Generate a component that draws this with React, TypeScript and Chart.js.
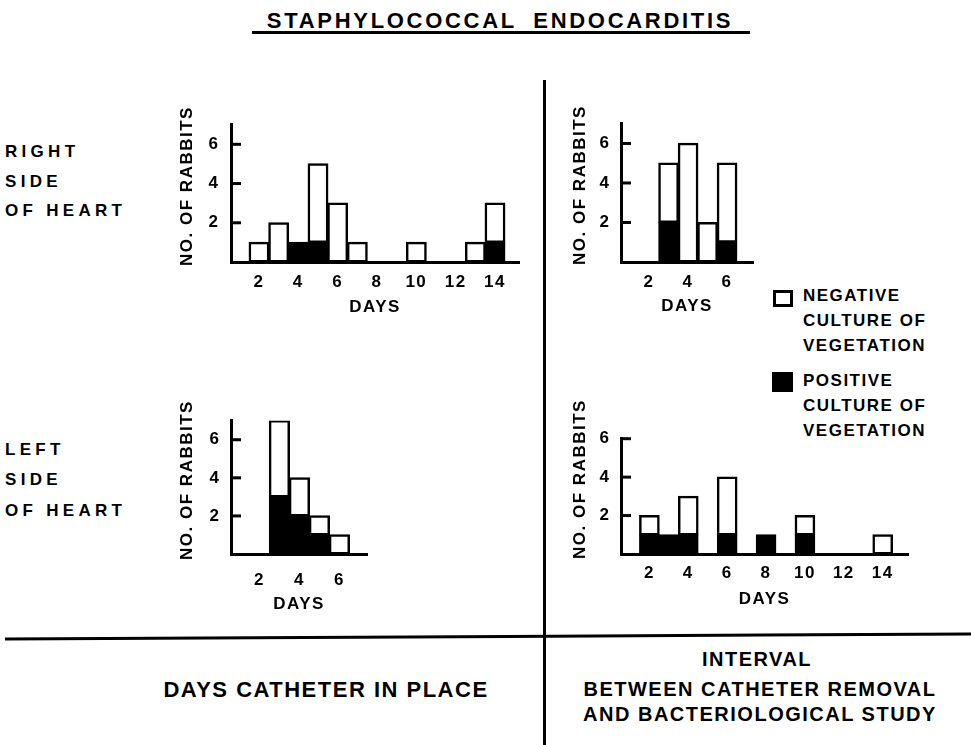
import React, { useEffect, useRef } from 'react';
import { Chart, registerables } from 'chart.js';

Chart.register(...registerables);

const FONT = "'Liberation Sans', Arial, sans-serif";

// ---- Data ----
// Right side of heart – days catheter in place
const rightCathDays = [2, 3, 4, 5, 6, 7, 10, 13, 14];
const rightCathPositive = [0, 0, 1, 1, 0, 0, 0, 0, 1];
const rightCathNegative = [1, 2, 0, 4, 3, 1, 1, 1, 2];

// Right side of heart – interval between catheter removal and study
const rightIntDays = [3, 4, 5, 6];
const rightIntPositive = [2, 0, 0, 1];
const rightIntNegative = [3, 6, 2, 4];

// Left side of heart – days catheter in place
const leftCathDays = [3, 4, 5, 6];
const leftCathPositive = [3, 2, 1, 0];
const leftCathNegative = [4, 2, 1, 1];

// Left side of heart – interval between catheter removal and study
const leftIntDays = [2, 3, 4, 6, 8, 10, 14];
const leftIntPositive = [1, 1, 1, 1, 1, 1, 0];
const leftIntNegative = [1, 0, 2, 3, 0, 1, 1];

// Tick labels
const xTickLabels = [2, 4, 6, 8, 10, 12, 14];
const yTickLabels = [2, 4, 6];

const yTitle = 'NO. OF RABBITS';
const xTitle = 'DAYS';

function toPoints(days: number[], vals: number[]) {
  return days
    .map((d, i) => ({ x: d, y: vals[i] }))
    .filter((p) => p.y > 0);
}

const letterSpacingPlugin = {
  id: 'letterSpacing',
  beforeDraw(chart: any) {
    (chart.ctx as any).letterSpacing = '1.5px';
  },
};

const innerTicksPlugin = {
  id: 'innerTicks',
  afterDraw(chart: any) {
    const y = chart.scales.y;
    const { ctx, chartArea } = chart;
    ctx.save();
    ctx.strokeStyle = '#000';
    ctx.lineWidth = 3;
    y.ticks.forEach((t: any) => {
      if (t.value <= 0) return;
      const py = y.getPixelForValue(t.value);
      ctx.beginPath();
      ctx.moveTo(chartArea.left, py);
      ctx.lineTo(chartArea.left + 10, py);
      ctx.stroke();
    });
    ctx.restore();
  },
};

type PanelSpec = {
  days: number[];
  pos: number[];
  neg: number[];
  left: number;
  top: number;
  wy: number;
  plotW: number;
  plotH: number;
  hx: number;
  xMin: number;
  xMax: number;
  yMax: number;
  yTickPad: number;
  xTickPad: number;
  xTitlePad: number;
  yTitleX: number;
  yTitleY: number;
};

const PAD_TOP = 20;
const PAD_RIGHT = 6;

function Panel({ spec }: { spec: PanelSpec }) {
  const ref = useRef<HTMLCanvasElement>(null);
  const width = spec.wy + spec.plotW + PAD_RIGHT;
  const height = PAD_TOP + spec.plotH + spec.hx;

  useEffect(() => {
    if (!ref.current) return;
    const font = { family: FONT, weight: 'bold', size: 17, lineHeight: 1.2 };
    const barCommon = {
      borderColor: '#000',
      borderWidth: 2.5,
      borderSkipped: false,
      barPercentage: 1,
      categoryPercentage: 1,
      inflateAmount: 0.6,
    };
    const chart = new Chart(ref.current, {
      type: 'bar',
      data: {
        datasets: [
          {
            label: 'POSITIVE CULTURE OF VEGETATION',
            data: toPoints(spec.days, spec.pos),
            backgroundColor: '#000',
            ...barCommon,
          },
          {
            label: 'NEGATIVE CULTURE OF VEGETATION',
            data: toPoints(spec.days, spec.neg),
            backgroundColor: '#fff',
            ...barCommon,
          },
        ],
      } as any,
      options: {
        animation: false,
        responsive: false,
        devicePixelRatio: 1,
        layout: { padding: { top: PAD_TOP, right: PAD_RIGHT, bottom: 0, left: 0 } },
        plugins: { legend: { display: false }, tooltip: { enabled: false } },
        scales: {
          x: {
            type: 'linear',
            min: spec.xMin,
            max: spec.xMax,
            offset: false,
            stacked: true,
            grid: { display: false, drawTicks: false, offset: false },
            border: { display: true, color: '#000', width: 3 },
            ticks: {
              stepSize: 2,
              includeBounds: false,
              autoSkip: false,
              maxRotation: 0,
              color: '#000',
              font,
              padding: spec.xTickPad,
              callback: (v: any) => (xTickLabels.includes(Number(v)) ? String(v) : ''),
            },
            title: {
              display: true,
              text: xTitle,
              color: '#000',
              font,
              padding: { top: 0, bottom: spec.xTitlePad },
            },
            afterFit: (s: any) => {
              s.height = spec.hx;
            },
          },
          y: {
            type: 'linear',
            min: 0,
            max: spec.yMax,
            stacked: true,
            grid: { display: false, drawTicks: false },
            border: { display: true, color: '#000', width: 3 },
            ticks: {
              stepSize: 1,
              color: '#000',
              font,
              padding: spec.yTickPad,
              callback: (v: any) => (yTickLabels.includes(Number(v)) ? String(v) : ''),
            },
            title: { display: false },
            afterFit: (s: any) => {
              s.width = spec.wy;
            },
          },
        },
      } as any,
      plugins: [letterSpacingPlugin, innerTicksPlugin],
    });
    return () => chart.destroy();
  }, [spec]);

  return (
    <>
      <canvas
        ref={ref}
        width={width}
        height={height}
        style={{ position: 'absolute', left: spec.left, top: spec.top - PAD_TOP, width, height }}
      />
      <div
        style={{
          position: 'absolute',
          left: spec.yTitleX - 110,
          top: spec.yTitleY - 11,
          width: 220,
          height: 22,
          lineHeight: '22px',
          fontSize: 17,
          letterSpacing: '1.5px',
          textAlign: 'center',
          whiteSpace: 'pre',
          transform: 'rotate(-90deg)',
          transformOrigin: '50% 50%',
        }}
      >
        {yTitle}
      </div>
    </>
  );
}

const panels: PanelSpec[] = [
  {
    days: rightCathDays, pos: rightCathPositive, neg: rightCathNegative,
    left: 160, top: 123, wy: 71, plotW: 288, plotH: 139, hx: 60,
    xMin: 0.576, xMax: 15.22, yMax: 7,
    yTickPad: 11.5, xTickPad: 10, xTitlePad: 4, yTitleX: 187, yTitleY: 186,
  },
  {
    days: rightIntDays, pos: rightIntPositive, neg: rightIntNegative,
    left: 550, top: 123, wy: 71, plotW: 132, plotH: 139, hx: 60,
    xMin: 0.56, xMax: 7.33, yMax: 7,
    yTickPad: 10.5, xTickPad: 10, xTitlePad: 5, yTitleX: 580, yTitleY: 185,
  },
  {
    days: leftCathDays, pos: leftCathPositive, neg: leftCathNegative,
    left: 160, top: 420, wy: 71, plotW: 136, plotH: 134, hx: 65,
    xMin: 0.58, xMax: 7.38, yMax: 7,
    yTickPad: 10.5, xTickPad: 16, xTitlePad: 4, yTitleX: 187, yTitleY: 480,
  },
  {
    days: leftIntDays, pos: leftIntPositive, neg: leftIntNegative,
    left: 550, top: 438, wy: 71, plotW: 287, plotH: 116, hx: 60,
    xMin: 0.54, xMax: 15.3, yMax: 6,
    yTickPad: 10.5, xTickPad: 9, xTitlePad: 4, yTitleX: 580, yTitleY: 479,
  },
];

function Text({
  children, cx, left, cy, size, lh, spacing, align = 'left', wordSpacing = 0,
}: any) {
  const style: any = {
    position: 'absolute',
    top: cy - lh / 2,
    fontSize: size,
    lineHeight: lh + 'px',
    letterSpacing: spacing + 'px',
    wordSpacing: wordSpacing + 'px',
    whiteSpace: 'pre',
    textAlign: align,
  };
  if (align === 'center') {
    style.left = cx - 300;
    style.width = 600;
  } else {
    style.left = left;
  }
  return <div style={style}>{children}</div>;
}

export default function App() {
  return (
    <div
      style={{
        position: 'absolute', left: 0, top: 0, width: 971, height: 745,
        background: '#fff', color: '#000', fontFamily: FONT, fontWeight: 'bold', overflow: 'hidden',
      }}
    >
      <Text cx={500} cy={20.5} size={22} lh={26} spacing={2.7} wordSpacing={8} align="center">
        STAPHYLOCOCCAL ENDOCARDITIS
      </Text>
      <div style={{ position: 'absolute', left: 252, top: 31, width: 498, height: 3, background: '#000' }} />

      <div style={{ position: 'absolute', left: 543, top: 80, width: 3, height: 665, background: '#000' }} />
      <svg width={971} height={745} style={{ position: 'absolute', left: 0, top: 0 }}>
        <line x1={5} y1={639} x2={971} y2={634} stroke="#000" strokeWidth={3} />
      </svg>

      <Text left={5} cy={152} size={17} lh={30} spacing={4.3}>RIGHT</Text>
      <Text left={5} cy={181.5} size={17} lh={30} spacing={4.3}>SIDE</Text>
      <Text left={5} cy={211} size={17} lh={30} spacing={4.3}>OF HEART</Text>

      <Text left={5} cy={450} size={17} lh={30} spacing={4.3}>LEFT</Text>
      <Text left={5} cy={480} size={17} lh={30} spacing={4.3}>SIDE</Text>
      <Text left={5} cy={511} size={17} lh={30} spacing={4.3}>OF HEART</Text>

      <div
        style={{
          position: 'absolute', left: 773, top: 290, width: 20, height: 17,
          border: '3px solid #000', boxSizing: 'border-box', background: '#fff',
        }}
      />
      <Text left={803} cy={295} size={17} lh={25} spacing={1.5}>NEGATIVE</Text>
      <Text left={803} cy={320} size={17} lh={25} spacing={1.5}>CULTURE OF</Text>
      <Text left={803} cy={345} size={17} lh={25} spacing={1.5}>VEGETATION</Text>

      <div style={{ position: 'absolute', left: 772, top: 372, width: 21, height: 20, background: '#000' }} />
      <Text left={803} cy={380} size={17} lh={25} spacing={1.5}>POSITIVE</Text>
      <Text left={803} cy={405} size={17} lh={25} spacing={1.5}>CULTURE OF</Text>
      <Text left={803} cy={430} size={17} lh={25} spacing={1.5}>VEGETATION</Text>

      <Text cx={326} cy={690} size={22} lh={26} spacing={1.5} align="center">DAYS CATHETER IN PLACE</Text>
      <Text cx={757} cy={659} size={20} lh={24} spacing={1.5} align="center">INTERVAL</Text>
      <Text cx={760} cy={689} size={20} lh={24} spacing={1.5} align="center">BETWEEN CATHETER REMOVAL</Text>
      <Text cx={760} cy={714} size={20} lh={24} spacing={1.5} align="center">AND BACTERIOLOGICAL STUDY</Text>

      {panels.map((p, i) => (
        <Panel key={i} spec={p} />
      ))}
    </div>
  );
}
